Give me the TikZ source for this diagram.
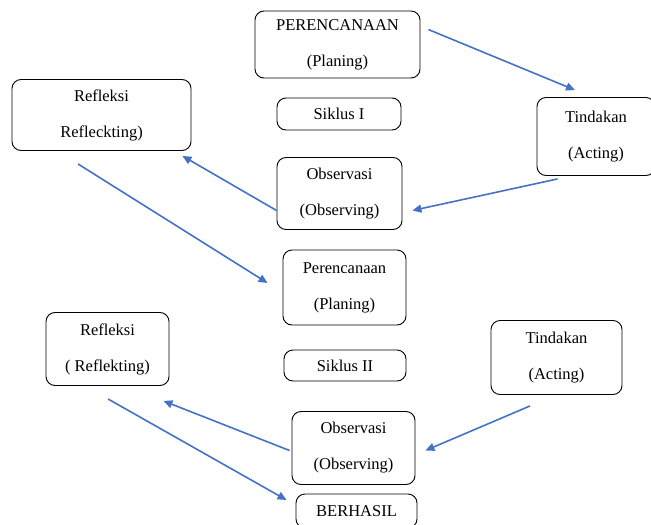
\documentclass[tikz,border=0pt]{standalone}
\usepackage{fontspec}
\setmainfont{Liberation Serif}
\usetikzlibrary{arrows.meta}
\definecolor{arrowblue}{HTML}{4472C4}
\tikzset{
    stage/.style={draw, rounded corners=9pt, line width=0.9pt, align=center, inner sep=0pt,
        font=\fontsize{16.5}{36}\selectfont},
    flow/.style={draw=arrowblue, line width=1.6pt, -{Triangle[length=9pt,width=8pt]}}
}
\begin{document}
\begin{tikzpicture}[x=1pt,y=-1pt]
    \useasboundingbox (0,0) rectangle (651,525);
    % siklus I
    \node[stage, minimum width=165pt, minimum height=67pt] (plan1) at (337.5,44.5) {PERENCANAAN\\(Planing)};
    \node[stage, minimum width=124pt, minimum height=32pt] (siklus1) at (339,114) {Siklus I};
    \node[stage, minimum width=179pt, minimum height=71pt] (refl1) at (101.5,115) {Refleksi\\Refleckting)};
    \node[stage, minimum width=118pt, minimum height=78pt] (tind1) at (596,136.5) {Tindakan\\(Acting)};
    \node[stage, minimum width=125pt, minimum height=72pt] (obs1) at (339.5,193.5) {Observasi\\(Observing)};
    % siklus II
    \node[stage, minimum width=123pt, minimum height=75pt] (plan2) at (344.5,287.5) {Perencanaan\\(Planing)};
    \node[stage, minimum width=122pt, minimum height=31pt] (siklus2) at (345,365.5) {Siklus II};
    \node[stage, minimum width=123pt, minimum height=73pt] (refl2) at (107.5,349) {Refleksi\\( Reflekting)};
    \node[stage, minimum width=131pt, minimum height=74pt] (tind2) at (556.5,357.5) {Tindakan\\(Acting)};
    \node[stage, minimum width=123pt, minimum height=73pt] (obs2) at (353.5,448) {Observasi\\(Observing)};
    \node[stage, minimum width=121pt, minimum height=34pt] (done) at (356.5,511) {BERHASIL};
    % arrows
    \draw[flow] ([shift={(8,19)}]plan1.north east) -- ([shift={(-21,-7)}]tind1.north);
    \draw[flow] ([shift={(21,3)}]tind1.south west) -- ([shift={(10,17)}]obs1.east);
    \draw[flow] ([shift={(0,17)}]obs1.west) -- ([shift={(-9,5)}]refl1.south east);
    \draw[flow] ([shift={(-23.5,13)}]refl1.south) -- ([shift={(-15,-4.5)}]plan2.west);
    \draw[flow] ([shift={(-26.5,11)}]tind2.south) -- ([shift={(10,2.5)}]obs2.east);
    \draw[flow] ([shift={(-2,2.5)}]obs2.west) -- ([shift={(-6,15)}]refl2.south east);
    \draw[flow] ([shift={(0.5,13)}]refl2.south) -- ([shift={(-9,-11)}]done.west);
\end{tikzpicture}
\end{document}
